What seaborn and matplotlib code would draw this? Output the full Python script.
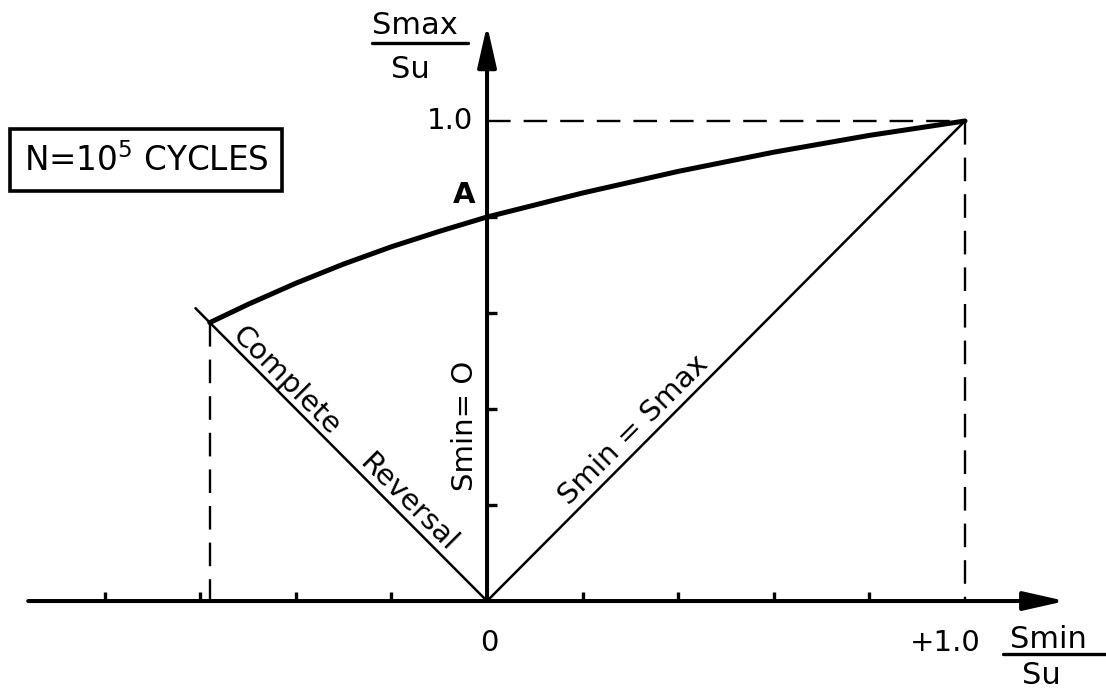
import matplotlib
matplotlib.use("Agg")
import matplotlib.pyplot as plt
import seaborn as sns
import pandas as pd

# Fatigue envelope at N = 1e5 cycles (stress ratios to ultimate strength)
smin_ratio = [-0.58, -0.50, -0.40, -0.30, -0.20, -0.10, 0.0, 0.2, 0.4, 0.6, 0.8, 1.0]
smax_ratio = [0.58, 0.618, 0.662, 0.702, 0.738, 0.770, 0.800, 0.850, 0.895, 0.935, 0.970, 1.0]

# Reference lines through the origin
reversal_x = [0.0, -0.61]
reversal_y = [0.0, 0.61]
static_x = [0.0, 1.0]
static_y = [0.0, 1.0]

x_ticks = [-0.8, -0.6, -0.4, -0.2, 0.2, 0.4, 0.6, 0.8]
y_ticks = [0.2, 0.4, 0.6, 0.8]

sns.set_theme(style="white")
plt.rcParams["font.family"] = ["DejaVu Sans"]
plt.rcParams["mathtext.fontset"] = "dejavusans"
plt.rcParams["text.color"] = "black"

fig = plt.figure(figsize=(11.06, 6.98), dpi=100)
ax = fig.add_axes([0, 0, 1, 1])
ax.set_xlim(-1.019, 1.295)
ax.set_ylim(-0.202, 1.252)
ax.axis("off")

curve = pd.DataFrame({"x": smin_ratio, "y": smax_ratio})
sns.lineplot(data=curve, x="x", y="y", sort=False, color="black", lw=3.6, ax=ax)
sns.lineplot(x=reversal_x, y=reversal_y, sort=False, color="black", lw=1.8, ax=ax)
sns.lineplot(x=static_x, y=static_y, sort=False, color="black", lw=1.8, ax=ax)

# Dashed guides
dash = dict(color="black", lw=1.7, dashes=(10, 5.5))
ax.plot([0, 1.0], [1.0, 1.0], **dash)
ax.plot([1.0, 1.0], [1.0, 0], **dash)
ax.plot([smin_ratio[0], smin_ratio[0]], [smax_ratio[0], 0], **dash)

# Axes with arrowheads
arrow = dict(arrowstyle="-|>,head_length=1.15,head_width=0.26", color="black",
             lw=2.9, mutation_scale=22, shrinkA=0, shrinkB=0)
ax.annotate("", xy=(1.21, 0), xytext=(-0.96, 0), arrowprops=arrow)
ax.annotate("", xy=(0, 1.20), xytext=(0, 0), arrowprops=arrow)

# Tick marks
for t in x_ticks:
    ax.plot([t, t], [0, 0.018], color="black", lw=2.4, solid_capstyle="butt")
for t in y_ticks:
    ax.plot([0, 0.021], [t, t], color="black", lw=2.4, solid_capstyle="butt")

# Labels
ax.text(-0.03, 1.0, "1.0", ha="right", va="center", fontsize=21)
ax.text(-0.048, 0.846, "A", ha="center", va="center", fontsize=21, fontweight="bold")
ax.text(0.004, -0.088, "0", ha="center", va="center", fontsize=21)
ax.text(0.958, -0.088, "+1.0", ha="center", va="center", fontsize=21)

ax.text(-0.151, 1.198, "Smax", ha="center", va="center", fontsize=22)
ax.plot([-0.24, -0.04], [1.162, 1.162], color="black", lw=2.4)
ax.text(-0.161, 1.108, "Su", ha="center", va="center", fontsize=22)

ax.text(1.175, -0.081, "Smin", ha="center", va="center", fontsize=22)
ax.plot([1.08, 1.295], [-0.110, -0.110], color="black", lw=2.4)
ax.text(1.16, -0.156, "Su", ha="center", va="center", fontsize=22)

ax.text(-0.046, 0.365, "Smin= O", ha="center", va="center", rotation=90, fontsize=21)
ax.text(-0.42, 0.458, "Complete", ha="center", va="center", rotation=-45,
        rotation_mode="anchor", fontsize=21)
ax.text(-0.165, 0.206, "Reversal", ha="center", va="center", rotation=-45,
        rotation_mode="anchor", fontsize=21)
ax.text(0.307, 0.356, "Smin = Smax", ha="center", va="center", rotation=45,
        rotation_mode="anchor", fontsize=21)

ax.text(-0.713, 0.918, r"N=10$^{5}$ CYCLES", ha="center", va="center", fontsize=23.5,
        bbox=dict(boxstyle="square,pad=0.42", fc="white", ec="black", lw=2.6))

fig.savefig("out.png", dpi=100)
